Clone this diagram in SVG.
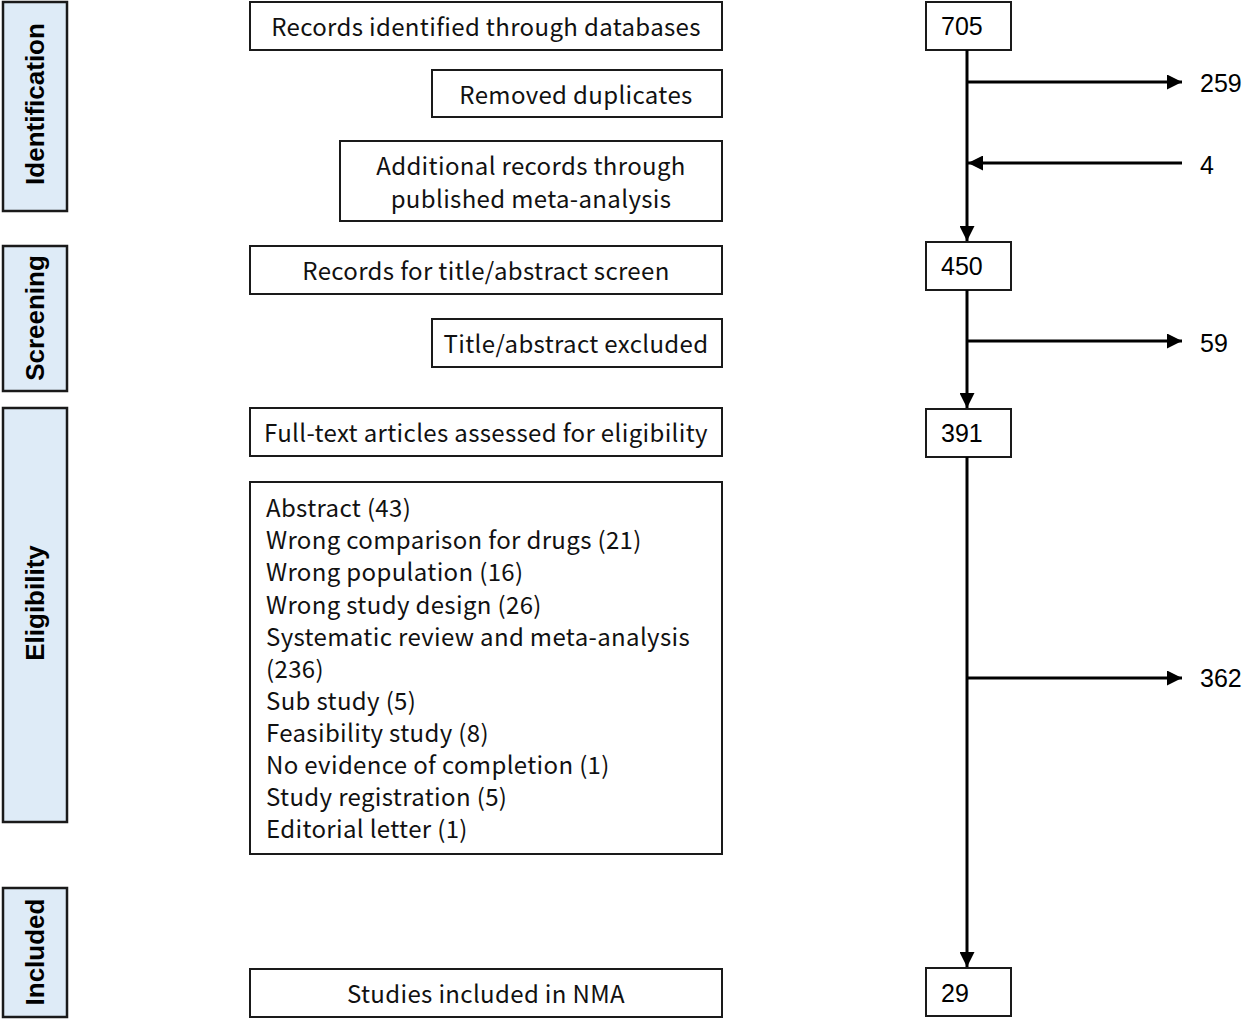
<svg xmlns="http://www.w3.org/2000/svg" width="1248" height="1022" viewBox="0 0 1248 1022">
<style>
.stage{fill:#deebf7;stroke:#1a1a1a;stroke-width:2.5}
.stxt{font-family:"Liberation Sans",Arial,sans-serif;font-weight:bold;font-size:26px;fill:#000;text-anchor:middle;dominant-baseline:central}
.box{fill:#fff;stroke:#1a1a1a;stroke-width:2}
.t{font-family:"Noto Sans CJK SC","Open Sans",sans-serif;font-size:24px;letter-spacing:0.35px;fill:#111;dominant-baseline:central}
.c{text-anchor:middle}
.n{font-family:"Liberation Sans",Arial,sans-serif;font-size:25px;fill:#000;dominant-baseline:central}
.ln{stroke:#000;stroke-width:3;fill:none}
</style>
<defs>
<marker id="ah" viewBox="0 0 10 10" refX="10" refY="5" markerWidth="5" markerHeight="5" orient="auto" markerUnits="strokeWidth">
<path d="M0,0 L10,5 L0,10 z" fill="#000"/>
</marker>
</defs>
<g id="stage-identification"><rect class="stage" x="3" y="2" width="64" height="209"/><text class="stxt" transform="translate(35,104) rotate(-90)">Identification</text></g>
<g id="stage-screening"><rect class="stage" x="3" y="246" width="64" height="145"/><text class="stxt" transform="translate(35,318) rotate(-90)">Screening</text></g>
<g id="stage-eligibility"><rect class="stage" x="3" y="408" width="64" height="414"/><text class="stxt" transform="translate(35,603) rotate(-90)">Eligibility</text></g>
<g id="stage-included"><rect class="stage" x="3" y="888" width="64" height="129"/><text class="stxt" transform="translate(35,952) rotate(-90)">Included</text></g>

<g id="node-records-db"><rect class="box" x="250" y="2" width="472" height="48"/><text class="t c" x="486" y="25">Records identified through databases</text></g>
<g id="node-removed"><rect class="box" x="432" y="70" width="290" height="47"/><text class="t c" x="576" y="93">Removed duplicates</text></g>
<g id="node-additional"><rect class="box" x="340" y="141" width="382" height="80"/><text class="t c" x="531" y="164">Additional records through</text><text class="t c" x="531" y="197">published meta-analysis</text></g>
<g id="node-screen"><rect class="box" x="250" y="246" width="472" height="48"/><text class="t c" x="486" y="269">Records for title/abstract screen</text></g>
<g id="node-excluded"><rect class="box" x="432" y="319" width="290" height="48"/><text class="t c" x="576" y="342">Title/abstract excluded</text></g>
<g id="node-fulltext"><rect class="box" x="250" y="408" width="472" height="48"/><text class="t c" x="486" y="431">Full-text articles assessed for eligibility</text></g>
<g id="node-reasons"><rect class="box" x="250" y="482" width="472" height="372"/>
<text class="t" x="266" y="506">Abstract (43)</text>
<text class="t" x="266" y="538">Wrong comparison for drugs (21)</text>
<text class="t" x="266" y="570">Wrong population (16)</text>
<text class="t" x="266" y="603">Wrong study design (26)</text>
<text class="t" x="266" y="635">Systematic review and meta-analysis</text>
<text class="t" x="266" y="667">(236)</text>
<text class="t" x="266" y="699">Sub study (5)</text>
<text class="t" x="266" y="731">Feasibility study (8)</text>
<text class="t" x="266" y="763">No evidence of completion (1)</text>
<text class="t" x="266" y="795">Study registration (5)</text>
<text class="t" x="266" y="827">Editorial letter (1)</text>
</g>
<g id="node-nma"><rect class="box" x="250" y="969" width="472" height="48"/><text class="t c" x="486" y="992">Studies included in NMA</text></g>

<g id="node-705"><rect class="box" x="926" y="2" width="85" height="48"/><text class="n" x="941" y="26">705</text></g>
<g id="node-450"><rect class="box" x="926" y="242" width="85" height="48"/><text class="n" x="941" y="266">450</text></g>
<g id="node-391"><rect class="box" x="926" y="409" width="85" height="48"/><text class="n" x="941" y="433">391</text></g>
<g id="node-29"><rect class="box" x="926" y="968" width="85" height="48"/><text class="n" x="941" y="993">29</text></g>
<g id="label-259"><text class="n" x="1200" y="83">259</text></g>
<g id="label-4"><text class="n" x="1200" y="165">4</text></g>
<g id="label-59"><text class="n" x="1200" y="343">59</text></g>
<g id="label-362"><text class="n" x="1200" y="678">362</text></g>

<g id="connectors">
<line class="ln" x1="967" y1="50" x2="967" y2="241" marker-end="url(#ah)"/>
<line class="ln" x1="967" y1="82" x2="1182" y2="82" marker-end="url(#ah)"/>
<line class="ln" x1="1182" y1="163" x2="968" y2="163" marker-end="url(#ah)"/>
<line class="ln" x1="967" y1="290" x2="967" y2="408" marker-end="url(#ah)"/>
<line class="ln" x1="967" y1="341" x2="1182" y2="341" marker-end="url(#ah)"/>
<line class="ln" x1="967" y1="457" x2="967" y2="967" marker-end="url(#ah)"/>
<line class="ln" x1="967" y1="678" x2="1182" y2="678" marker-end="url(#ah)"/>
</g>
</svg>
